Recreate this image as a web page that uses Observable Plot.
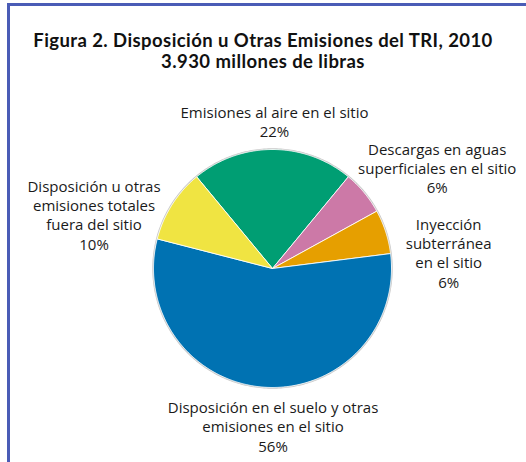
<!DOCTYPE html>
<html>
<head>
<meta charset="utf-8">
<script src="https://cdn.jsdelivr.net/npm/d3@7"></script>
<script src="https://cdn.jsdelivr.net/npm/@observablehq/plot@0.6"></script>
<style>
  html, body { margin: 0; padding: 0; background: #fff; }
  #wrap { position: relative; width: 526px; height: 462px; overflow: hidden; background: #fff; font-family: "Open Sans", sans-serif; }
  #frame { position: absolute; left: 7px; top: 3px; width: 600px; height: 600px; border-top: 3px solid #4a5cb6; border-left: 3px solid #4a5cb6; }
  #title { position: absolute; left: 0; width: 526px; top: 30px; text-align: center; font-family: Lato, "Open Sans", sans-serif; font-size: 18.5px; line-height: 21px; font-weight: 700; letter-spacing: 0.42px; color: #111; }
  #title div { height: 21px; }
  #chart { position: absolute; left: 0; top: 80px; }
</style>
</head>
<body>
<div id="wrap">
  <div id="frame"></div>
  <div id="title"><div>Figura 2. Disposición u Otras Emisiones del TRI, 2010</div><div>3.930 millones de libras</div></div>
  <div id="chart"></div>
</div>
<script>
// ---- data ----
const categories = [
  "Emisiones al aire en el sitio",
  "Descargas en aguas superficiales en el sitio",
  "Inyección subterránea en el sitio",
  "Disposición en el suelo y otras emisiones en el sitio",
  "Disposición u otras emisiones totales fuera del sitio"
];
const values = [22, 6, 6, 56, 10];
const labelTexts = [
  "Emisiones al aire en el sitio\n22%",
  "Descargas en aguas\nsuperficiales en el sitio\n6%",
  "Inyección\nsubterránea\nen el sitio\n6%",
  "Disposición en el suelo y otras\nemisiones en el sitio\n56%",
  "Disposición u otras\nemisiones totales\nfuera del sitio\n10%"
];
const colors = ["#009E73", "#CC79A7", "#E69F00", "#0072B2", "#F0E442"];

// ---- layout (not data) ----
const W = 526, H = 382, R = 119, CX = 272, CY = 188;
const startDeg = -39.6;
// label centre offsets (px) from the slice's outer edge point at its mid-angle
const labelOffsets = [[2, -28], [73, -25], [63, 21], [8, 39], [-78, 10]];

const total = d3.sum(values);
const slices = [];
let acc = 0;
values.forEach((v, i) => {
  const a0 = (startDeg + acc / total * 360) * Math.PI / 180;
  acc += v;
  const a1 = (startDeg + acc / total * 360) * Math.PI / 180;
  slices.push({ name: categories[i], value: v, a0, a1, mid: (a0 + a1) / 2, i });
});

const polyPts = [];
for (const s of slices) {
  polyPts.push({ name: s.name, x: 0, y: 0 });
  const n = Math.max(2, Math.ceil((s.a1 - s.a0) / (Math.PI / 360)));
  for (let k = 0; k <= n; k++) {
    const a = s.a0 + (s.a1 - s.a0) * k / n;
    polyPts.push({ name: s.name, x: Math.sin(a), y: Math.cos(a) });
  }
  polyPts.push({ name: s.name, x: 0, y: 0 });
}

const rim = d3.range(0, 361, 1).map(d => ({ x: 1.004 * Math.sin(d * Math.PI / 180), y: 1.004 * Math.cos(d * Math.PI / 180) }));

const labels = slices.map(s => ({
  text: labelTexts[s.i],
  x: Math.sin(s.mid) + labelOffsets[s.i][0] / R,
  y: Math.cos(s.mid) - labelOffsets[s.i][1] / R
}));

const plot = Plot.plot({
  width: W,
  height: H,
  margin: 0,
  x: { domain: [-CX / R, (W - CX) / R], axis: null },
  y: { domain: [-(H - CY) / R, CY / R], axis: null },
  color: { domain: categories, range: colors },
  style: { background: "transparent", fontFamily: "Open Sans, sans-serif" },
  marks: [
    Plot.line(rim, { x: "x", y: "y", stroke: "#c8c8c8", strokeWidth: 1.5 }),
    Plot.line(polyPts, { x: "x", y: "y", z: "name", fill: "name", stroke: "#ffffff", strokeWidth: 1, strokeOpacity: 0.85, strokeLinejoin: "round" }),
    Plot.text(labels, { x: "x", y: "y", text: "text", fontSize: 15, lineHeight: 1.28, fill: "#1a1a1a", textAnchor: "middle", lineAnchor: "middle" })
  ]
});
document.getElementById("chart").appendChild(plot);
</script>
</body>
</html>
